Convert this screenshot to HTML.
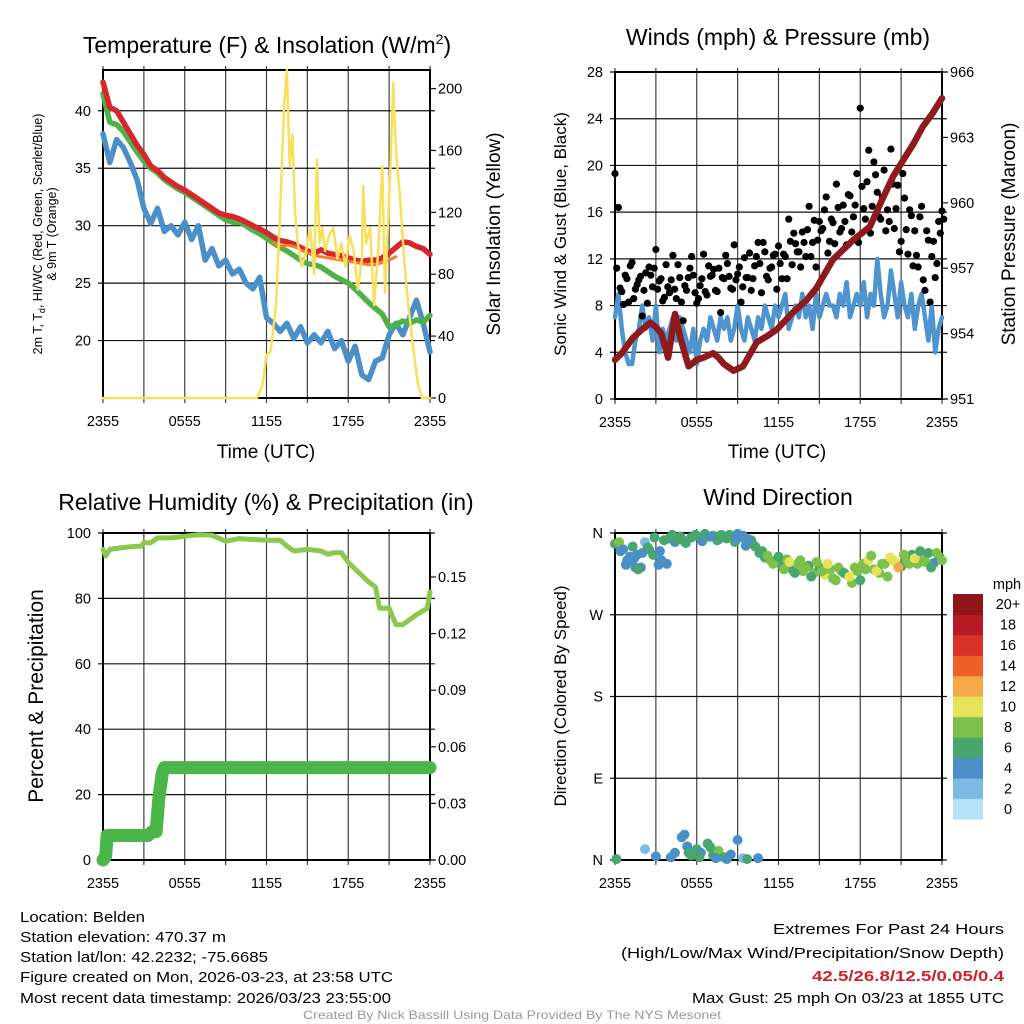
<!DOCTYPE html>
<html><head><meta charset="utf-8"><style>
html,body{margin:0;padding:0;background:#fff;}
svg{display:block;font-family:"Liberation Sans",Arial,sans-serif;}
</style></head><body>
<svg id="chart" width="1024" height="1024" viewBox="0 0 1024 1024" xmlns="http://www.w3.org/2000/svg">
<rect width="1024" height="1024" fill="#fff"/>
<text x="267" y="53" font-size="23" text-anchor="middle">Temperature (F) &amp; Insolation (W/m<tspan font-size="14" dy="-9">2</tspan><tspan dy="9">)</tspan></text>
<text x="778" y="45" font-size="23" text-anchor="middle">Winds (mph) &amp; Pressure (mb)</text>
<text x="266" y="510" font-size="23" text-anchor="middle">Relative Humidity (%) &amp; Precipitation (in)</text>
<text x="778" y="505" font-size="23" text-anchor="middle">Wind Direction</text>

<text transform="translate(42,234) rotate(-90)" font-size="12.5" text-anchor="middle">2m T, T<tspan font-size="9" dy="3">d</tspan><tspan dy="-3">, HI/WC (Red, Green, Scarlet/Blue)</tspan></text>
<text transform="translate(56,234) rotate(-90)" font-size="12.5" text-anchor="middle">&amp; 9m T (Orange)</text>
<text transform="translate(500,234) rotate(-90)" font-size="19" text-anchor="middle">Solar Insolation (Yellow)</text>
<text x="266" y="458" font-size="19" text-anchor="middle">Time (UTC)</text>
<text transform="translate(566,234) rotate(-90)" font-size="17" text-anchor="middle">Sonic Wind &amp; Gust (Blue, Black)</text>
<text transform="translate(1015,234) rotate(-90)" font-size="19" text-anchor="middle">Station Pressure (Maroon)</text>
<text x="777" y="458" font-size="19" text-anchor="middle">Time (UTC)</text>
<text transform="translate(43,696) rotate(-90)" font-size="21" text-anchor="middle">Percent &amp; Precipitation</text>
<text transform="translate(566,696) rotate(-90)" font-size="17" text-anchor="middle">Direction (Colored By Speed)</text>

<g font-size="15">
<text x="20" y="922" textLength="125" lengthAdjust="spacingAndGlyphs">Location: Belden</text>
<text x="20" y="942" textLength="206" lengthAdjust="spacingAndGlyphs">Station elevation: 470.37 m</text>
<text x="20" y="962" textLength="248" lengthAdjust="spacingAndGlyphs">Station lat/lon: 42.2232; -75.6685</text>
<text x="20" y="982" textLength="373" lengthAdjust="spacingAndGlyphs">Figure created on Mon, 2026-03-23, at 23:58 UTC</text>
<text x="20" y="1003" textLength="371" lengthAdjust="spacingAndGlyphs">Most recent data timestamp: 2026/03/23 23:55:00</text>
</g>
<g font-size="15" text-anchor="end">
<text x="1004" y="934" textLength="231" lengthAdjust="spacingAndGlyphs">Extremes For Past 24 Hours</text>
<text x="1004" y="958" textLength="383" lengthAdjust="spacingAndGlyphs">(High/Low/Max Wind/Precipitation/Snow Depth)</text>
<text x="1004" y="981" fill="#d0212a" font-weight="bold" textLength="192" lengthAdjust="spacingAndGlyphs">42.5/26.8/12.5/0.05/0.4</text>
<text x="1004" y="1003" textLength="312" lengthAdjust="spacingAndGlyphs">Max Gust: 25 mph On 03/23 at 1855 UTC</text>
</g>
<text x="512" y="1019" font-size="12" fill="#999" text-anchor="middle" textLength="418" lengthAdjust="spacingAndGlyphs">Created By Nick Bassill Using Data Provided By The NYS Mesonet</text>
</svg>
<script>
// ---------- data ----------
const timeLabels = ["2355","0555","1155","1755","2355"];
const tHours = [0,0.5,1,1.5,2,2.5,3,3.5,4,4.5,5,5.5,6,6.5,7,7.5,8,8.5,9,9.5,10,10.5,11,11.5,12,12.5,13,13.5,14,14.5,15,15.5,16,16.5,17,17.5,18,18.5,19,19.5,20,20.5,21,21.5,22,22.5,23,23.5,24];
const tempRed = [42.5,40.3,40,39,38,37,36.2,35.2,34.8,34.2,33.8,33.4,33.1,32.7,32.3,31.9,31.5,31.1,30.9,30.8,30.6,30.3,30,29.7,29.4,29,28.7,28.6,28.4,28.1,27.8,27.6,27.9,27.6,27.5,27.4,27.2,27,26.9,27,27,27.2,27.6,28.1,28.6,28.5,28.2,28,27.5];
const tempOrange = [28.5,28.2,28.3,28.2,27.9,27.6,27.4,27.3,27.2,27.1,27,26.9,26.8,26.7,26.6,26.6,26.8,27,27.3];
const orangeHours = [12.5,13,13.5,14,14.5,15,15.5,16,16.5,17,17.5,18,18.5,19,19.5,20,20.5,21,21.5];
const tempGreen = [41.5,39,38.8,38.2,37.3,36.4,35.6,35,34.6,34,33.6,33.2,32.9,32.5,32.1,31.7,31.3,30.9,30.5,30.3,30.3,30,29.6,29.3,28.9,28.5,28.1,27.8,27.4,27,26.7,26.6,26.4,26,25.6,25.3,25,24.5,23.9,23.3,22.8,22.3,21.2,21.4,21.7,21.5,21.8,21.6,22.2];
const tempBlue = [38,35.5,37.5,36.8,35.5,34,31.5,30.2,31.5,29.5,30,29.2,30.3,28.8,30,27,28,26.5,27,25.8,26.2,25,24.5,25.5,22,21.5,20.8,21.5,20.2,21.2,19.8,20.5,19.8,20.8,19.3,20,18.2,19.5,17,16.6,18.2,18.5,20.5,21.5,20.5,22,23.5,21.5,19];
const solarHours = [0,11.3,11.7,12.0,12.3,12.7,13.0,13.3,13.5,13.7,13.9,14.1,14.3,14.6,14.9,15.2,15.5,15.7,15.9,16.1,16.3,16.6,16.9,17.2,17.5,17.8,18.1,18.4,18.7,19.0,19.1,19.3,19.6,19.9,20.2,20.5,20.7,20.9,21.1,21.3,21.5,21.8,22.1,22.4,22.8,23.1,23.4,24];
const solarValues = [0,0,8,28,30,60,120,190,212,150,170,120,100,85,95,110,80,154,100,110,95,105,110,90,100,85,105,95,70,90,137,100,110,60,95,150,68,110,150,204,160,130,90,60,30,10,0,0];
const tempTicks = [20,25,30,35,40];
const solarTicks = [0,40,80,120,160,200];

const windSpeed = [7,9,6,4,3,3,5,6, 8,6,7,5,8,4,6,5, 6,7,5,7,6,5,4,6, 3,5,6,5,7,6,5,7, 6,7,5,6,8,6,5,7, 6,5,7,6,8,7,6,8, 7,8,9,6,7,8,7,9, 7,8,6,9,7,8,9,8, 8,7,9,8,10,7,8,9, 8,10,7,9,8,12,9,7, 8,11,9,7,10,8,7,9, 6,8,9,7,5,8,4,6, 7];
const gustValues = [19.3,16.4,9.2,10.6,8.3,11.7,9.4,10.2, 7.1,10.8,11.3,9.6,12.8,10.1,8.4,11.5, 9.1,12.3,8.6,10.4,6.7,9.3,11.2,10.6, 8.2,9.7,12.4,8.9,10.5,11.1,9.2,7.4, 10.3,11.6,9.5,13.2,10.7,8.3,12.1,10.4, 9.3,11.4,13.4,9.1,12.6,10.2,11.3,12.4, 13.1,10.3,12.2,15.4,11.5,13.3,12.6,14.3, 12.2,16.5,13.4,11.3,15.2,14.6,17.3,13.5, 15.1,18.4,14.3,16.6,13.2,17.4,15.6,19.3, 24.9,16.3,18.6,14.2,20.3,17.7,15.4,19.6, 16.2,21.4,14.6,18.3,13.5,17.2,12.4,15.7, 14.4,11.3,16.5,9.3,13.6,12.2,10.4,15.2, 16.1];
const gustValues2 = [11.2,9.5,8.1,10.3,11.4,8.6,9.8,10.5, 9.3,8.2,10.6,11.2,9.4,10.3,8.7,9.6, 10.2,9.4,11.5,8.3,9.7,10.4,12.2,9.1, 8.6,10.3,9.2,11.4,10.6,9.3,11.2,10.4, 12.3,10.5,9.4,10.2,11.3,9.6,10.4,12.5, 10.3,12.2,11.6,13.4,10.5,11.2,12.3,9.4, 11.6,12.4,10.3,13.5,14.2,12.6,11.3,13.4, 14.5,12.2,15.3,13.6,14.4,16.2,12.5,15.4, 13.3,16.4,14.6,15.2,17.5,14.3,16.6,13.4, 18.2,15.4,21.3,16.5,19.2,15.6,17.3,14.4, 15.2,18.4,16.3,12.6,19.3,14.5,16.2,11.4, 12.3,15.6,10.2,14.4,8.3,13.5,11.6,14.2, 15.4];
const pressHours = [0,0.5,1.3,2,2.6,3,3.4,3.9,4.4,4.8,5.4,6,6.5,7.2,7.6,8,8.7,9.4,10.4,11.2,11.9,13.1,14,14.8,16,17.5,18.7,19.5,20.4,21.2,21.9,22.6,23.3,24];
const pressValues = [952.8,953.1,953.8,954.2,954.5,954.3,954,952.9,954.9,953.8,952.5,952.8,952.9,953.1,952.9,952.6,952.3,952.5,953.6,953.9,954.2,955,955.5,956.1,957.4,958.3,958.9,960,961.2,962,962.7,963.5,964.1,964.8];
const windTicks = [0,4,8,12,16,20,24,28];
const pressTicks = [951,954,957,960,963,966];

const rhHours = [0,0.2,0.5,1,2,2.8,3,3.5,4,5,6,7,8,9,10,11,12,13,13.5,14,15,16,16.5,17,17.5,18,19,19.5,20,20.3,21,21.5,22,23,23.8,24];
const rhValues = [95,93,95,95.3,95.8,96,97,97,98.5,98.5,99,99.5,99.3,97.5,98.3,98,97.8,97.8,96,94.5,95,94.5,93.5,94,94,91,87,85,83.5,77,77,72,72,75,77,82];
const precipHours = [0,0.2,0.3,1,2,3,3.3,3.6,3.9,4.0,4.1,4.2,4.35,4.5,6,9,12,15,18,21,24];
const precipValues = [0,0.002,0.013,0.013,0.013,0.013,0.013,0.015,0.015,0.024,0.033,0.038,0.046,0.049,0.049,0.049,0.049,0.049,0.049,0.049,0.049];
const rhTicks = [0,20,40,60,80,100];
const precipTicks = ["0.00","0.03","0.06","0.09","0.12","0.15"];

const dirHours = [0,0.3,0.6,0.9,1.1,1.3,1.6,1.9,2.2,2.5,2.8,3.2,3.6,4,4.4,4.8,5.2,5.6,6,6.4,6.8,7.2,7.6,8,8.4,8.8,9.2,9.6,10,10.3,10.6,11,11.4,11.8,12.2,12.6,13,13.4,13.8,14.2,14.6,15,15.4,15.8,16.2,16.6,17,17.4,17.8,18.2,18.6,19,19.4,19.8,20.2,20.6,21,21.4,21.8,22.2,22.6,23,23.4,23.8,1.2,1.5,2.4,3.3,3.8,4.6,5.9,7.5,8.9,9.4,10.1,0.1,2.2,4.1,4.4,4.9,5.1,5.3,5.6,6,6.3,6.8,7.2,7.6,8,8.5,9,9.4,10.5,
 0.4,0.8,1.4,1.7,2.0,2.9,3.4,4.2,5.0,6.6,7.0,7.8,8.2,9.0,9.8,10.8,11.2,11.6,12.0,12.4,12.8,13.2,13.6,14.0,14.4,14.8,15.2,15.6,16.0,16.4,16.8,17.2,17.6,18.0,18.4,18.8,19.2,19.6,20.0,20.4,20.8,21.2,21.6,22.0,22.4,22.8,23.2,23.6,24,3.0,5.4,6.2,7.0,7.4,8.2,9.7];
const dirValues = [348,350,342,330,334,345,336,322,350,342,336,325,352,354,350,356,349,355,357,351,356,357,353,356,358,350,355,346,352,345,338,333,330,328,325,331,320,326,318,324,316,322,314,320,308,318,314,305,318,326,330,320,316,326,333,328,323,330,336,326,330,338,327,334,330,322,344,340,326,353,358,352,354,357,348,1,12,3,8,25,28,15,5,12,8,18,5,10,3,6,22,2,2,
 340,325,332,320,338,355,330,358,352,359,356,358,354,359,353,340,335,326,334,320,328,316,330,322,312,328,318,326,310,322,316,312,322,308,320,335,318,326,312,330,322,336,326,332,340,328,322,338,330,4,8,3,14,2,1,1];
const dirSpeed = [6,8,5,4,4,7,5,4,3,5,6,4,6,6,5,7,6,7,6,5,6,6,5,6,7,6,6,5,6,7,6,7,8,7,7,8,6,8,9,7,8,7,10,8,8,8,10,8,9,9,10,8,9,8,10,11,7,8,7,8,9,7,5,6,4,4,6,5,5,6,7,6,5,4,6,6,2,5,4,4,5,4,6,7,5,7,6,8,6,5,4,3,4,
 4,5,4,7,5,6,4,7,6,6,5,7,6,4,5,7,8,9,7,8,10,7,9,8,7,8,9,10,9,8,7,10,8,6,9,8,10,9,8,11,12,9,8,10,7,8,6,9,8,5,6,7,6,5,4,7];
const dirTicks = ["N","E","S","W","N"];
const speedBins = ["0","2","4","6","8","10","12","14","16","18","20+"];
const speedColors = ["#b4e3f8","#7dbbe6","#4a8fc6","#48a66e","#7cc24a","#e7e25a","#f6a947","#ef6029","#d93229","#b71c24","#8e1519"];

// ---------- drawing ----------
const NS = "http://www.w3.org/2000/svg";
const svg = document.getElementById("chart");
function mk(tag, attrs, parent) {
  const e = document.createElementNS(NS, tag);
  for (const k in attrs) e.setAttribute(k, attrs[k]);
  (parent || svg).appendChild(e);
  return e;
}
function makePanel(L, R, T, B) {
  return {L, R, T, B, x: h => L + h / 24 * (R - L)};
}
function linY(p, lo, hi) { return v => p.B - (v - lo) / (hi - lo) * (p.B - p.T); }

function frame(p, name, leftTicks, leftY, leftLabels, rightTicks, rightY, rightLabels) {
  const g = mk("g", {});
  
  
  for (let h = 0; h <= 24; h += 3) {
    const x = p.x(h);
    const l = mk("line", {x1: x, x2: x, y1: p.T - 4, y2: p.B + 5, stroke: "#111", "stroke-width": 1.2, opacity: 0.8}, g);
    
    
  }
  timeLabels.forEach((lab, i) => {
    const t = mk("text", {x: p.x(i * 6), y: p.B + 28, "font-size": 14.5, "text-anchor": "middle"}, g);
    t.textContent = lab;
    
    
  });
  leftTicks.forEach((v, i) => {
    const y = leftY(v);
    const l = mk("line", {x1: p.L - 5, x2: p.R + 5, y1: y, y2: y, stroke: "#111", "stroke-width": 1.2}, g);
    
    
    const t = mk("text", {x: p.L - 12, y: y + 5, "font-size": 14.5, "text-anchor": "end"}, g);
    t.textContent = leftLabels[i];
    
    
  });
  if (rightTicks) rightTicks.forEach((v, i) => {
    const y = rightY(v);
    const l = mk("line", {x1: p.R, x2: p.R + 6, y1: y, y2: y, stroke: "#111", "stroke-width": 1.2}, g);
    
    
    const t = mk("text", {x: p.R + 8, y: y + 5, "font-size": 14.5}, g);
    t.textContent = rightLabels[i];
    
    
  });
  const b = mk("rect", {x: p.L, y: p.T, width: p.R - p.L, height: p.B - p.T, fill: "none", stroke: "#000", "stroke-width": 2}, g);
  
  
}
function line(p, xs, ys, yf, color, w, name, cap) {
  const pts = xs.map((h, i) => p.x(h).toFixed(1) + "," + yf(ys[i]).toFixed(1)).join(" ");
  const e = mk("polyline", {points: pts, fill: "none", stroke: color, "stroke-width": w, "stroke-linejoin": "round", "stroke-linecap": cap || "round"});
  
  
  return e;
}

// Panel 1: temperature
const p1 = makePanel(103, 430, 70, 398);
const yT = linY(p1, 15, 43.55);
const yS = linY(p1, 0, 212);
frame(p1, "temperature", tempTicks, yT, tempTicks.map(String), solarTicks, yS, solarTicks.map(String));
line(p1, tHours, tempBlue, yT, "#4b8fc9", 5.5, "dewpoint-line");
line(p1, tHours, tempGreen, yT, "#4db348", 5.5, "heat-index-line");
line(p1, tHours, tempRed, yT, "#d8262b", 5.5, "temperature-line");
line(p1, orangeHours, tempOrange, yT, "#f47f2a", 3, "temperature-9m-line");
line(p1, solarHours, solarValues, yS, "#f8e05a", 2.5, "solar-insolation-line");

// Panel 2: wind
const p2 = makePanel(615, 942, 72, 399);
const yW = linY(p2, 0, 28);
const yP = linY(p2, 951, 966);
frame(p2, "wind", windTicks, yW, windTicks.map(String), pressTicks, yP, pressTicks.map(String));
const windHours = windSpeed.map((v, i) => i * 0.25);
line(p2, windHours, windSpeed, yW, "#4e94cf", 4.5, "sonic-wind-line");
gustValues.forEach((v, i) => {
  const c = mk("circle", {cx: p2.x(i * 0.25), cy: yW(v), r: 3.6, fill: "#000"});
  
  
});
gustValues2.forEach((v, i) => {
  const c = mk("circle", {cx: p2.x(i * 0.25 + 0.125), cy: yW(v), r: 3.6, fill: "#000"});
  
  
});
line(p2, pressHours, pressValues, yP, "#8e1a1c", 6.5, "pressure-line");

// Panel 3: RH and precip
const p3 = makePanel(103, 430, 533, 860);
const yR = linY(p3, 0, 100);
const yPr = linY(p3, 0, 0.15 * (860 - 533) / (860 - 577));
frame(p3, "humidity", rhTicks, yR, rhTicks.map(String), precipTicks.map(Number), yPr, precipTicks);
line(p3, rhHours, rhValues, yR, "#8cc84b", 5, "relative-humidity-line");
line(p3, precipHours, precipValues, yPr, "#4ab64a", 13, "precipitation-line");

// Panel 4: direction
const p4 = makePanel(615, 942, 533, 860);
const yD = linY(p4, 0, 360);
frame(p4, "wind-direction", [0, 90, 180, 270, 360], yD, dirTicks, null);
dirHours.forEach((h, i) => {
  const bin = Math.min(10, Math.floor(dirSpeed[i] / 2));
  const c = mk("circle", {cx: p4.x(h), cy: yD(dirValues[i]), r: 5, fill: speedColors[bin]});
  
  
});

// Colorbar
const cbTop = 594, cbBot = 819, cbH = (cbBot - cbTop) / speedBins.length;
const cbTitle = mk("text", {x: 1007, y: 589, "font-size": 14.5, "text-anchor": "middle"});
cbTitle.textContent = "mph";


speedBins.forEach((lab, i) => {
  const y = cbBot - (i + 1) * cbH;
  const r = mk("rect", {x: 953, y: y, width: 30, height: cbH + 0.5, fill: speedColors[i]});
  
  
  const t = mk("text", {x: 1008, y: y + cbH / 2 + 5, "font-size": 14.5, "text-anchor": "middle"});
  t.textContent = lab;
  
  
});
</script>
</body></html>
